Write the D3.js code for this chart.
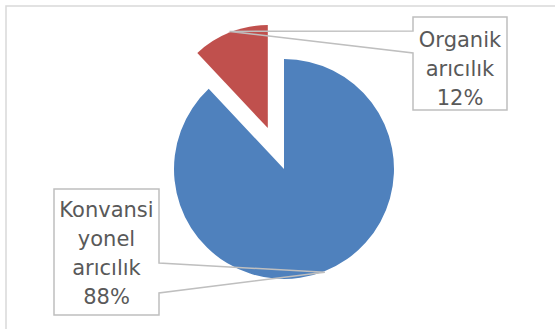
<!DOCTYPE html>
<html>
<head>
<meta charset="utf-8">
<script src="https://cdn.jsdelivr.net/npm/d3@7"></script>
<style>
  body { margin: 0; background: #fff; }
  text { font-family: "DejaVu Sans", sans-serif; fill: #595959; }
</style>
</head>
<body>
<div id="chart"></div>
<script>
// Dados
const categories = ["Konvansiyonel arıcılık", "Organik arıcılık"];
const values = [88, 12];
const labelLines = [
    ["Konvansi", "yonel", "arıcılık", "88%"],
    ["Organik", "arıcılık", "12%"]
];
const colors = ["#4f81bd", "#c0504d"];

// Layout
const W = 555, H = 329;
const cx = 284, cy = 169;
const radius = 110;
const explodeIdx = 1, explodeDist = 44, explodeRadius = 103;

// caixas dos rótulos: x, y, w, h, base do ponteiro (lado + deslocamentos)
const boxes = [
    { x: 54, y: 189, w: 105, h: 126, side: "right", p1: 74, p2: 104, lineY: 217 },
    { x: 413, y: 17, w: 94, h: 93, side: "left", p1: 14, p2: 36, lineY: 47 }
];
const lineH = 29;

const svg = d3.select("#chart")
    .append("svg")
    .attr("width", W)
    .attr("height", H);

svg.append("rect")
    .attr("width", W).attr("height", H)
    .attr("fill", "#fff");

// borda externa (continua além da imagem)
svg.append("rect")
    .attr("x", 6).attr("y", 6)
    .attr("width", W + 20).attr("height", H + 20)
    .attr("fill", "none")
    .attr("stroke", "#d9d9d9")
    .attr("stroke-width", 1.5);

const pie = d3.pie().sort(null).value(d => d);
const arcs = pie(values);

const g = svg.append("g").attr("transform", `translate(${cx},${cy})`);

function offset(d, i) {
    if (i !== explodeIdx) return [0, 0];
    const a = (d.startAngle + d.endAngle) / 2;
    return [Math.sin(a) * explodeDist, -Math.cos(a) * explodeDist];
}
function rOf(i) { return i === explodeIdx ? explodeRadius : radius; }

g.selectAll("path.slice")
    .data(arcs)
    .enter()
    .append("path")
    .attr("class", "slice")
    .attr("fill", (d, i) => colors[i])
    .attr("transform", (d, i) => `translate(${offset(d, i)})`)
    .attr("d", (d, i) => d3.arc().innerRadius(0).outerRadius(rOf(i))(d));

// rótulos com ponteiro
arcs.forEach((d, i) => {
    const b = boxes[i];
    const a = (d.startAngle + d.endAngle) / 2;
    const [ox, oy] = offset(d, i);
    const r = rOf(i) + 1;
    const tx = cx + ox + Math.sin(a) * r;
    const ty = cy + oy - Math.cos(a) * r;

    let pts;
    if (b.side === "right") {
        const xr = b.x + b.w;
        pts = [[b.x, b.y], [xr, b.y], [xr, b.y + b.p1], [tx, ty], [xr, b.y + b.p2],
               [xr, b.y + b.h], [b.x, b.y + b.h]];
    } else {
        pts = [[b.x, b.y], [b.x + b.w, b.y], [b.x + b.w, b.y + b.h], [b.x, b.y + b.h],
               [b.x, b.y + b.p2], [tx, ty], [b.x, b.y + b.p1]];
    }
    svg.append("path")
        .attr("d", d3.line()(pts) + "Z")
        .attr("fill", "none")
        .attr("stroke", "#bfbfbf")
        .attr("stroke-width", 1.5)
        .attr("stroke-linejoin", "miter");

    svg.append("text")
        .attr("text-anchor", "middle")
        .style("font-size", "21px")
        .selectAll("tspan")
        .data(labelLines[i])
        .enter()
        .append("tspan")
        .attr("x", b.x + b.w / 2)
        .attr("y", (t, j) => b.lineY + j * lineH)
        .text(t => t);
});
</script>
</body>
</html>
